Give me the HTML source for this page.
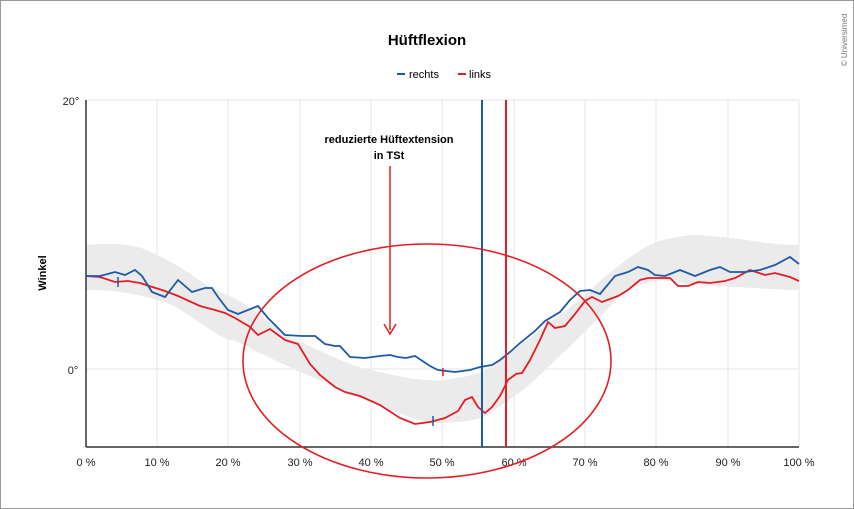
<!DOCTYPE html><html><head><style>body{margin:0;background:#fff}svg{display:block;font-family:"Liberation Sans",sans-serif}</style></head><body>
<svg width="854" height="509" viewBox="0 0 854 509">
<rect x="0.5" y="0.5" width="853" height="508" fill="#fff" stroke="#999"/>
<text x="427" y="45" text-anchor="middle" font-size="15" font-weight="bold">Hüftflexion</text>
<text x="847" y="40" font-size="8" fill="#777" transform="rotate(-90 847 40)" text-anchor="middle">© Universimed</text>
<line x1="397" y1="74" x2="405" y2="74" stroke="#1f5aa6" stroke-width="2"/><text x="409" y="78" font-size="11">rechts</text>
<line x1="458" y1="74" x2="466" y2="74" stroke="#e31e24" stroke-width="2"/><text x="469" y="78" font-size="11">links</text>
<g stroke="#e6e6e6" stroke-width="1">
<line x1="157" y1="100" x2="157" y2="447"/><line x1="228" y1="100" x2="228" y2="447"/><line x1="300" y1="100" x2="300" y2="447"/><line x1="371" y1="100" x2="371" y2="447"/><line x1="442" y1="100" x2="442" y2="447"/><line x1="514" y1="100" x2="514" y2="447"/><line x1="585" y1="100" x2="585" y2="447"/><line x1="656" y1="100" x2="656" y2="447"/><line x1="728" y1="100" x2="728" y2="447"/><line x1="799" y1="100" x2="799" y2="447"/>
<line x1="86" y1="100" x2="799" y2="100"/><line x1="86" y1="369" x2="799" y2="369"/></g>
<path d="M86,245 C120,242 140,245 157,255 C190,270 200,285 228,295 C260,310 280,335 300,342 C330,355 350,366 371,370 C400,377 425,382 443,380 C470,377 485,372 497,363 C520,345 540,330 563,313 C590,292 600,280 613,270 C635,253 650,243 663,240 C680,236 690,235 697,235 C720,236 735,239 747,240 C770,244 785,245 799,245 L799,290 C780,290 740,287 700,285 C680,283 670,281 663,280 C650,282 640,285 630,287 C615,300 605,312 597,320 C580,336 570,347 563,353 C540,375 525,390 513,397 C495,410 485,418 473,420 C455,423 440,423 430,423 C400,415 380,405 350,394 C320,380 290,368 260,353 C240,343 235,340 228,340 C200,325 180,305 157,300 C130,292 110,290 86,290 Z" fill="#ebebeb"/>
<line x1="86" y1="100" x2="86" y2="447" stroke="#333" stroke-width="1.5"/>
<line x1="86" y1="447" x2="799" y2="447" stroke="#333" stroke-width="1.5"/>
<g font-size="11" fill="#222" text-anchor="middle">
<text x="71" y="105">20°</text><text x="73" y="374">0°</text>
<text x="86" y="466">0 %</text><text x="157" y="466">10 %</text><text x="228" y="466">20 %</text><text x="300" y="466">30 %</text><text x="371" y="466">40 %</text><text x="442" y="466">50 %</text><text x="514" y="466">60 %</text><text x="585" y="466">70 %</text><text x="656" y="466">80 %</text><text x="728" y="466">90 %</text><text x="799" y="466">100 %</text>
</g>
<text x="46" y="273" font-size="11" font-weight="bold" transform="rotate(-90 46 273)" text-anchor="middle">Winkel</text>
<polyline fill="none" stroke="#e31e24" stroke-width="1.8" points="86,276 100,277 115,282 128,281 140,283 165,291 178,296 200,306 215,310 225,313 235,318 250,327 258,335 270,329 285,340 298,344 310,364 320,375 335,387 345,392 360,396 380,405 400,418 415,424 430,422 445,418 458,411 465,400 472,397 478,407 485,413 492,407 500,396 508,380 516,374 522,373 530,360 540,340 548,322 555,328 565,326 575,314 585,301 592,297 602,302 618,296 628,290 640,280 648,278 660,278 670,278 678,286 688,286 698,282 710,283 725,281 735,278 750,270 765,275 775,273 790,277 799,281"/>
<polyline fill="none" stroke="#1f5aa6" stroke-width="1.8" points="86,276 100,276 115,272 125,275 135,270 142,276 152,292 165,297 178,280 192,292 205,288 212,288 218,297 228,310 238,314 258,306 268,318 285,335 302,336 315,336 325,344 335,346 340,346 350,357 365,358 380,356 390,355 398,357 406,358 415,356 430,366 438,370 455,372 470,370 480,367 492,365 500,360 510,352 520,343 535,331 545,321 560,312 570,300 580,291 590,290 600,294 615,276 628,272 638,267 648,270 655,275 665,276 680,270 695,276 710,270 720,267 730,272 745,272 760,270 775,265 790,257 799,264"/>
<line x1="118" y1="277" x2="118" y2="287" stroke="#1f5aa6" stroke-width="1.5"/>
<line x1="433" y1="416" x2="433" y2="426" stroke="#1f5aa6" stroke-width="1.5"/>
<line x1="443" y1="368" x2="443" y2="376" stroke="#e31e24" stroke-width="1.5"/>
<line x1="482" y1="100" x2="482" y2="447" stroke="#1f5aa6" stroke-width="2"/>
<line x1="506" y1="100" x2="506" y2="447" stroke="#e31e24" stroke-width="2"/>
<ellipse cx="427" cy="361" rx="184" ry="117" fill="none" stroke="#e31e24" stroke-width="1.6"/>
<line x1="390" y1="166" x2="390" y2="330" stroke="#e31e24" stroke-width="1.5"/>
<polyline points="384,324 390,334 396,324" fill="none" stroke="#e31e24" stroke-width="1.5"/>
<text x="389" y="143" font-size="11" font-weight="bold" text-anchor="middle">reduzierte Hüftextension</text>
<text x="389" y="159" font-size="11" font-weight="bold" text-anchor="middle">in TSt</text>
</svg></body></html>
